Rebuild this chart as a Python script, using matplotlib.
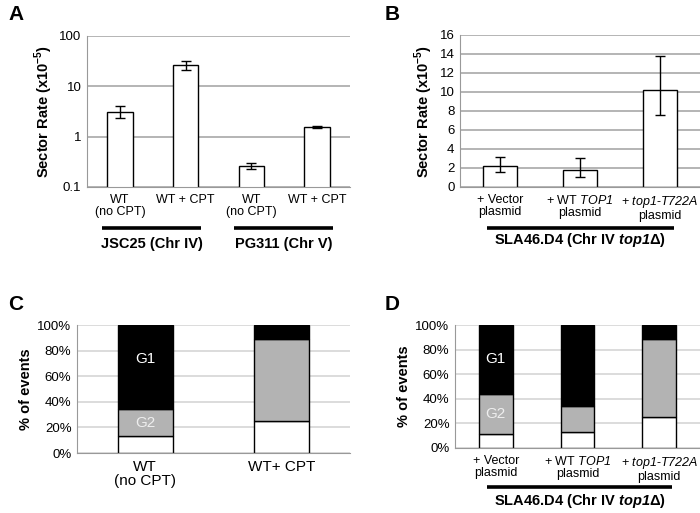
import numpy as np
from matplotlib import pyplot, transforms

pyplot.rcParams["font.family"] = ["Liberation Sans", "DejaVu Sans"]
pyplot.rcParams["mathtext.fontset"] = "custom"
pyplot.rcParams["mathtext.rm"] = "Liberation Sans"
pyplot.rcParams["mathtext.sf"] = "Liberation Sans:italic"
pyplot.rcParams["mathtext.cal"] = "Liberation Sans:italic:bold"
pyplot.rcParams["mathtext.bf"] = "Liberation Sans:bold"

# panel A: sector rate, log scale
a_labels = ["WT\n(no CPT)", "WT + CPT", "WT\n(no CPT)", "WT + CPT"]
a_rate = [3.1, 26.0, 0.26, 1.55]
a_low = [2.4, 21.0, 0.23, 1.46]
a_high = [4.1, 32.0, 0.30, 1.64]
a_groups = ["JSC25 (Chr IV)", "PG311 (Chr V)"]

# panel B: sector rate, linear
b_labels = ["+ Vector\nplasmid", "+ WT $\\mathsf{TOP1}$\nplasmid",
            "+ $\\mathsf{top1}$-$\\mathsf{T722A}$\nplasmid"]
b_rate = [2.25, 1.8, 10.2]
b_low = [1.6, 1.0, 7.6]
b_high = [3.15, 3.1, 13.8]
strain_label = "SLA46.D4 (Chr IV $\\mathcal{top1}$\u0394)"

# panels C and D: % of events (bottom white, G2 grey, G1 black)
c_labels = ["WT\n(no CPT)", "WT+ CPT"]
c_white = [13, 25]
c_g2 = [21, 64]
c_g1 = [66, 11]

d_labels = b_labels
d_white = [11.5, 13, 25]
d_g2 = [32.5, 21, 64]
d_g1 = [56, 66, 11]

W, H = 700, 513
GRID_DARK = "#a8a8a8"
GRID_LIGHT = "#d6d6d6"
GREY_FILL = "#b3b3b3"


def px_axes(fig, left, top, right, bottom):
    return fig.add_axes([left / W, 1 - bottom / H, (right - left) / W, (bottom - top) / H])


def style(ax, grid_colour):
    for side in ["top", "right"]:
        ax.spines[side].set_visible(False)
    ax.spines["left"].set_color("#999999")
    ax.spines["bottom"].set_color("#999999")
    ax.yaxis.grid(True, color=grid_colour, linewidth=1.2)
    ax.set_axisbelow(True)
    ax.tick_params(axis="both", length=0, labelsize=9.5, pad=4, colors="black")
    ax.tick_params(axis="x", pad=5, labelsize=9)


def group_line(ax, x0, x1, y_line, y_text, text):
    trans = transforms.blended_transform_factory(ax.transData, ax.transAxes)
    ax.plot([x0, x1], [y_line, y_line], color="black", linewidth=2.6,
            transform=trans, clip_on=False, solid_capstyle="butt")
    ax.text((x0 + x1) / 2, y_text, text, transform=trans, ha="center",
            va="center", fontsize=10.5, fontweight="bold")


def main():
    fig = pyplot.figure(figsize=(7.0, 5.13), dpi=100)

    # ---- A
    ax = px_axes(fig, 87, 36, 350, 187)
    x = np.arange(len(a_rate))
    rate = np.array(a_rate)
    err = [rate - np.array(a_low), np.array(a_high) - rate]
    ax.bar(x, rate, width=0.39, color="white", edgecolor="black", linewidth=1)
    ax.errorbar(x, rate, yerr=err, fmt="none", ecolor="black", elinewidth=1,
                capsize=3.5, capthick=1)
    ax.set_yscale("log")
    ax.set_ylim(0.1, 100)
    ax.set_yticks([0.1, 1, 10, 100])
    ax.set_yticklabels(["0.1", "1", "10", "100"])
    ax.minorticks_off()
    ax.set_xlim(-0.5, len(x) - 0.5)
    ax.set_xticks(x)
    ax.set_xticklabels(a_labels, va="top", linespacing=1.0)
    style(ax, GRID_DARK)
    ax.set_ylabel("Sector Rate (x10$^{\\mathbf{-5}}$)", fontsize=10.5,
                  fontweight="bold", labelpad=3)
    group_line(ax, -0.27, 1.24, -0.27, -0.375, a_groups[0])
    group_line(ax, 1.73, 3.24, -0.27, -0.375, a_groups[1])
    fig.text(8 / W, 1 - 15 / H, "A", fontsize=15, fontweight="bold", va="center")

    # ---- B
    ax = px_axes(fig, 460, 35, 700, 187)
    x = np.arange(len(b_rate))
    rate = np.array(b_rate)
    err = [rate - np.array(b_low), np.array(b_high) - rate]
    ax.bar(x, rate, width=0.42, color="white", edgecolor="black", linewidth=1)
    ax.errorbar(x, rate, yerr=err, fmt="none", ecolor="black", elinewidth=1,
                capsize=3.5, capthick=1)
    ax.set_ylim(0, 16)
    ax.set_yticks(range(0, 17, 2))
    ax.set_xlim(-0.5, len(x) - 0.5)
    ax.set_xticks(x)
    ax.set_xticklabels(b_labels, linespacing=1.0)
    style(ax, GRID_DARK)
    ax.set_ylabel("Sector Rate (x10$^{\\mathbf{-5}}$)", fontsize=10.5,
                  fontweight="bold", labelpad=3)
    group_line(ax, -0.16, 2.17, -0.27, -0.35, strain_label)
    fig.text(385 / W, 1 - 15 / H, "B", fontsize=15, fontweight="bold", va="center")

    # ---- C
    ax = px_axes(fig, 77, 325, 350, 453)
    x = np.arange(len(c_white))
    white = np.array(c_white)
    g2 = np.array(c_g2)
    g1 = np.array(c_g1)
    ax.bar(x, white, width=0.4, color="white", edgecolor="black", linewidth=1)
    ax.bar(x, g2, bottom=white, width=0.4, color=GREY_FILL, edgecolor="black", linewidth=1)
    ax.bar(x, g1, bottom=white + g2, width=0.4, color="black", edgecolor="black", linewidth=1)
    ax.text(x[0], white[0] + g2[0] + g1[0] * 0.6, "G1", color="white",
            ha="center", va="center", fontsize=11)
    ax.text(x[0], white[0] + g2[0] * 0.5, "G2", color="#eeeeee",
            ha="center", va="center", fontsize=11)
    ax.set_ylim(0, 100)
    ax.set_yticks(range(0, 101, 20))
    ax.set_yticklabels(["%d%%" % v for v in range(0, 101, 20)])
    ax.set_xlim(-0.5, len(x) - 0.5)
    ax.set_xticks(x)
    ax.set_xticklabels(c_labels, linespacing=1.0)
    style(ax, GRID_LIGHT)
    ax.tick_params(axis="x", labelsize=11)
    ax.set_ylabel("% of events", fontsize=10.5, fontweight="bold", labelpad=3)
    fig.text(8 / W, 1 - 305 / H, "C", fontsize=15, fontweight="bold", va="center")

    # ---- D
    ax = px_axes(fig, 455, 325, 700, 448)
    x = np.arange(len(d_white))
    white = np.array(d_white)
    g2 = np.array(d_g2)
    g1 = np.array(d_g1)
    ax.bar(x, white, width=0.41, color="white", edgecolor="black", linewidth=1)
    ax.bar(x, g2, bottom=white, width=0.41, color=GREY_FILL, edgecolor="black", linewidth=1)
    ax.bar(x, g1, bottom=white + g2, width=0.41, color="black", edgecolor="black", linewidth=1)
    ax.text(x[0], white[0] + g2[0] + g1[0] * 0.5, "G1", color="white",
            ha="center", va="center", fontsize=11)
    ax.text(x[0], white[0] + g2[0] * 0.5, "G2", color="#eeeeee",
            ha="center", va="center", fontsize=11)
    ax.set_ylim(0, 100)
    ax.set_yticks(range(0, 101, 20))
    ax.set_yticklabels(["%d%%" % v for v in range(0, 101, 20)])
    ax.set_xlim(-0.5, len(x) - 0.5)
    ax.set_xticks(x)
    ax.set_xticklabels(d_labels, linespacing=1.0)
    style(ax, GRID_LIGHT)
    ax.set_ylabel("% of events", fontsize=10.5, fontweight="bold", labelpad=3)
    group_line(ax, -0.11, 2.16, -0.32, -0.43, strain_label)
    fig.text(385 / W, 1 - 305 / H, "D", fontsize=15, fontweight="bold", va="center")

    fig.savefig("out.png", dpi=100)


if __name__ == "__main__":
    main()
